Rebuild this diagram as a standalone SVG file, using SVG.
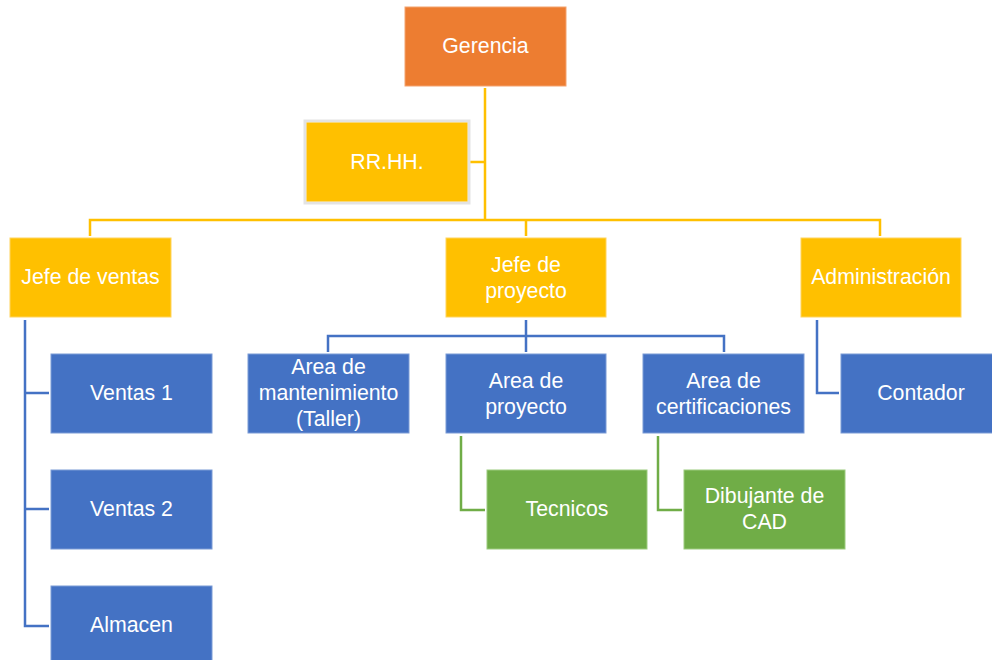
<svg xmlns="http://www.w3.org/2000/svg" width="992" height="660" viewBox="0 0 992 660">
<style>
.t{font-family:"Liberation Sans",Arial,sans-serif;font-size:21.3px;fill:#fff;text-anchor:middle}
.o{fill:#ED7D31;stroke:#F4A36F;stroke-width:1}
.y{fill:#FFC000;stroke:#FFD45C;stroke-width:1}
.b{fill:#4472C4;stroke:#7B9BD6;stroke-width:1}
.g{fill:#70AD47;stroke:#9CCB7E;stroke-width:1}
.cy{fill:none;stroke:#FFC000;stroke-width:2.5}
.cb{fill:none;stroke:#4472C4;stroke-width:2.5}
.cg{fill:none;stroke:#70AD47;stroke-width:2.5}
</style>
<rect width="992" height="660" fill="#fff"/>
<g id="connectors">
<path class="cy" d="M485 88V220M470 162H485M90 236V220H880V236M526 220V236"/>
<path class="cb" d="M25 320V626H49M25 393H49M25 509H49"/>
<path class="cb" d="M526 320V352M328 352V336H724V352"/>
<path class="cb" d="M817 320V393H839"/>
<path class="cg" d="M461 436V510H485"/>
<path class="cg" d="M658 436V510H682"/>
</g>
<g id="gerencia"><rect class="o" x="405" y="7" width="161" height="79"/><text class="t" x="485.5" y="53">Gerencia</text></g>
<g id="rrhh"><rect x="305" y="121" width="164" height="82" fill="none" stroke="#E3E3E3" stroke-width="3"/><rect x="306.5" y="122.5" width="161" height="79" fill="#FFC000"/><text class="t" x="387" y="169">RR.HH.</text></g>
<g id="jefe-ventas"><rect class="y" x="10" y="238" width="161" height="79"/><text class="t" x="90.5" y="284">Jefe de ventas</text></g>
<g id="jefe-proyecto"><rect class="y" x="446" y="238" width="160" height="79"/><text class="t" x="526" y="272">Jefe de</text><text class="t" x="526" y="298">proyecto</text></g>
<g id="administracion"><rect class="y" x="801" y="238" width="160" height="79"/><text class="t" x="881" y="284">Administración</text></g>
<g id="ventas1"><rect class="b" x="51" y="354" width="161" height="79"/><text class="t" x="131.5" y="400">Ventas 1</text></g>
<g id="ventas2"><rect class="b" x="51" y="470" width="161" height="79"/><text class="t" x="131.5" y="516">Ventas 2</text></g>
<g id="almacen"><rect class="b" x="51" y="586" width="161" height="79"/><text class="t" x="131.5" y="632">Almacen</text></g>
<g id="area-mantenimiento"><rect class="b" x="248" y="354" width="161" height="79"/><text class="t" x="328.5" y="374">Area de</text><text class="t" x="328.5" y="400">mantenimiento</text><text class="t" x="328.5" y="426">(Taller)</text></g>
<g id="area-proyecto"><rect class="b" x="446" y="354" width="160" height="79"/><text class="t" x="526" y="388">Area de</text><text class="t" x="526" y="414">proyecto</text></g>
<g id="area-certificaciones"><rect class="b" x="643" y="354" width="161" height="79"/><text class="t" x="723.5" y="388">Area de</text><text class="t" x="723.5" y="414">certificaciones</text></g>
<g id="contador"><rect class="b" x="841" y="354" width="152" height="79"/><text class="t" x="921" y="400">Contador</text></g>
<g id="tecnicos"><rect class="g" x="487" y="470" width="160" height="79"/><text class="t" x="567" y="516">Tecnicos</text></g>
<g id="dibujante"><rect class="g" x="684" y="470" width="161" height="79"/><text class="t" x="764.5" y="503">Dibujante de</text><text class="t" x="764.5" y="529">CAD</text></g>
</svg>
